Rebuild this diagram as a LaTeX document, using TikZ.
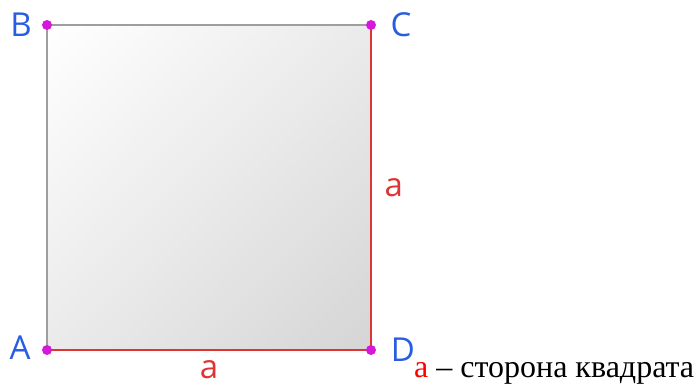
\documentclass[tikz,border=0pt]{standalone}
\usepackage{fontspec}
\setmainfont{Liberation Serif}
\newfontfamily\labelfont{Open Sans}
\usetikzlibrary{positioning, shadings}
\definecolor{ptblue}{RGB}{40,92,226}
\definecolor{sidered}{RGB}{222,52,52}
\definecolor{ptmag}{RGB}{214,24,220}
\definecolor{edgegray}{RGB}{158,158,158}

\begin{document}
\begin{tikzpicture}[
        x=1pt, y=1pt,
        pt/.style={circle, fill=ptmag, inner sep=0pt, minimum size=10pt},
        lbl/.style={font=\labelfont\fontsize{33}{36}\selectfont, text=ptblue, inner sep=0pt},
        side/.style={draw=sidered, line width=2.4pt},
        plain/.style={draw=edgegray, line width=2.4pt},
        sidelbl/.style={font=\labelfont\fontsize{33}{36}\selectfont, text=sidered},
    ]
        \useasboundingbox (0,0) rectangle (700,385);

        % corner points
        \coordinate (A) at (47,35);
        \coordinate (B) at (47,360);
        \coordinate (C) at (371,360);
        \coordinate (D) at (371,35);

        % shaded square
        \shade[upper left=white, upper right=gray!16, lower left=gray!16,
            lower right=gray!33] (A) rectangle (C);

        % sides
        \draw[plain] (A) -- (B);
        \draw[plain] (B) -- (C);
        \draw[side] (C) -- (D) node[sidelbl, midway, right=9pt] {a};
        \draw[side] (D) -- (A) node[sidelbl, midway, below=6pt] {a};

        % vertices
        \node[pt] (pA) at (A) {};
        \node[pt] (pB) at (B) {};
        \node[pt] (pC) at (C) {};
        \node[pt] (pD) at (D) {};

        % vertex names
        \node[lbl] (nA) at (20,37) {A};
        \node[lbl] (nB) at (21,360) {B};
        \node[lbl] (nC) at (401,360) {C};
        \node[lbl] (nD) at (403,35) {D};

        % legend
        \node[anchor=base west, inner sep=0pt, font=\fontsize{32}{35}\selectfont]
            (legend) at (414,8) {\textcolor{red}{a} – сторона квадрата};
    \end{tikzpicture}
\end{document}
